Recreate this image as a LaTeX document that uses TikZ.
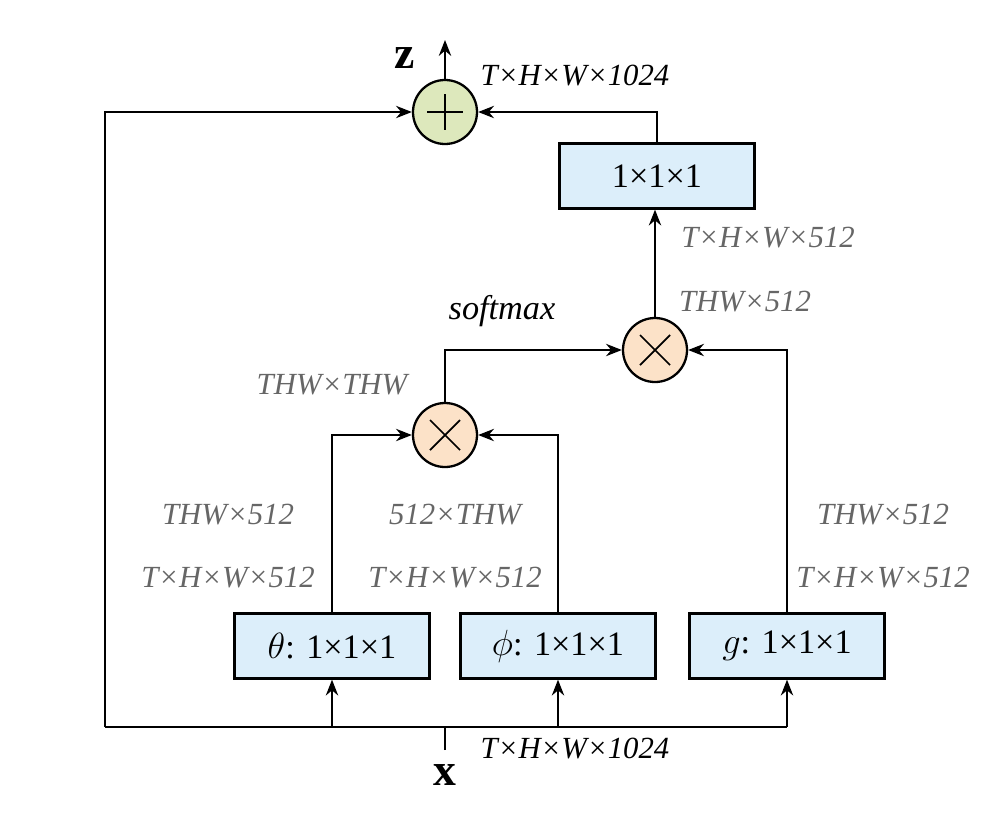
\documentclass[tikz,border=0pt]{standalone}
\usepackage{fontspec}
\setmainfont{Liberation Serif}
\usetikzlibrary{arrows.meta}
\definecolor{boxc}{HTML}{DCEEFA}
\definecolor{plusc}{HTML}{DDE8BC}
\definecolor{mulc}{HTML}{FCE2C8}
\begin{document}
\begin{tikzpicture}[x=0.02cm,y=-0.02cm,
  line width=1.3pt,
  ar/.style={-{Stealth[length=9pt,width=7pt]}},
  box/.style={draw,fill=boxc,minimum width=195*0.02cm,minimum height=65*0.02cm,font=\fontsize{19.5}{19.5}\selectfont,inner sep=0},
  circ/.style={draw,circle,minimum size=64*0.02cm,inner sep=0},
  lab/.style={font=\fontsize{17.5}{17.5}\selectfont\itshape,text=black!60},
  blab/.style={font=\fontsize{17.5}{17.5}\selectfont\itshape}]
\useasboundingbox (0,0) rectangle (1004,812);
\node[circ,fill=plusc] (plus) at (445,112) {};
\draw[line width=1pt] (plus.center)+(-18,0) -- +(18,0) (plus.center)+(0,-18) -- +(0,18);
\node[circ,fill=mulc] (m1) at (445,435) {};
\draw[line width=1pt] (m1.center)+(-15,-15) -- +(15,15) (m1.center)+(-15,15) -- +(15,-15);
\node[circ,fill=mulc] (m2) at (655,350) {};
\draw[line width=1pt] (m2.center)+(-15,-15) -- +(15,15) (m2.center)+(-15,15) -- +(15,-15);
\node[box] (top) at (657,176) {1×1×1};
\node[box] (th) at (332,646) {$\theta$: 1×1×1};
\node[box] (ph) at (558,646) {$\phi$: 1×1×1};
\node[box] (g) at (787,646) {$g$: 1×1×1};
\coordinate (zt) at (445,40);
\coordinate (xin) at (445,750);
\coordinate (bl) at (105,727);
\coordinate (br) at (787,727);
\node[font=\fontsize{26}{26}\selectfont\bfseries] (z) at (405,58) {z};
\node[font=\fontsize{26}{26}\selectfont\bfseries] (x) at (445,775) {x};
\draw[ar] (plus.north) -- (zt);
\draw[ar] (top.north) |- (plus.east);
\draw (xin) -- (445,727);
\draw (bl) -- (br);
\draw[ar] (bl) |- (plus.west);
\draw[ar] (332,727) -- (th.south);
\draw[ar] (558,727) -- (ph.south);
\draw[ar] (br) -- (g.south);
\draw[ar] (th.north) |- (m1.west);
\draw[ar] (ph.north) |- (m1.east);
\draw[ar] (m1.north) |- (m2.west);
\draw[ar] (g.north) |- (m2.east);
\draw[ar] (m2.north) -- (m2.north|-top.south);
\node[blab] (l1) at (575,76) {T×H×W×1024};
\node[blab] (l2) at (575,748) {T×H×W×1024};
\node[font=\fontsize{19.5}{19.5}\selectfont\itshape] (l3) at (502,311) {softmax};
\node[lab] (l4) at (332,385) {THW×THW};
\node[lab] (l5) at (228,515) {THW×512};
\node[lab] (l6) at (228,578) {T×H×W×512};
\node[lab] (l7) at (455,515) {512×THW};
\node[lab] (l8) at (455,578) {T×H×W×512};
\node[lab] (l9) at (883,515) {THW×512};
\node[lab] (l10) at (883,578) {T×H×W×512};
\node[lab] (l11) at (745,302) {THW×512};
\node[lab] (l12) at (768,238) {T×H×W×512};
\end{tikzpicture}
\end{document}
